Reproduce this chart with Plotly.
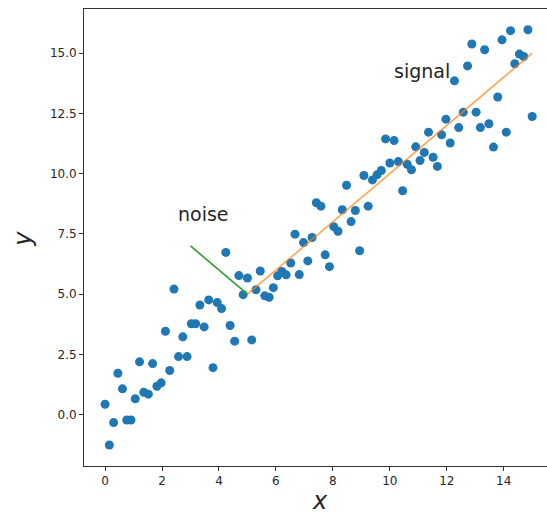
import plotly.graph_objects as go

# Observed samples
x_vals = [0.00, 0.15, 0.30, 0.45, 0.61, 0.76, 0.91, 1.06, 1.21, 1.36,
          1.52, 1.67, 1.82, 1.97, 2.12, 2.27, 2.42, 2.58, 2.73, 2.88,
          3.03, 3.18, 3.33, 3.48, 3.64, 3.79, 3.94, 4.09, 4.24, 4.39,
          4.55, 4.70, 4.85, 5.00, 5.15, 5.30, 5.45, 5.61, 5.76, 5.91,
          6.06, 6.21, 6.36, 6.52, 6.67, 6.82, 6.97, 7.12, 7.27, 7.42,
          7.58, 7.73, 7.88, 8.03, 8.18, 8.33, 8.48, 8.64, 8.79, 8.94,
          9.09, 9.24, 9.39, 9.55, 9.70, 9.85, 10.00, 10.15, 10.30, 10.45,
          10.61, 10.76, 10.91, 11.06, 11.21, 11.36, 11.52, 11.67, 11.82, 11.97,
          12.12, 12.27, 12.42, 12.58, 12.73, 12.88, 13.03, 13.18, 13.33, 13.48,
          13.64, 13.79, 13.94, 14.09, 14.24, 14.39, 14.55, 14.70, 14.85, 15.00]
y_vals = [0.43, -1.26, -0.33, 1.72, 1.07, -0.22, -0.22, 0.66, 2.19, 0.93,
          0.85, 2.12, 1.18, 1.32, 3.46, 1.83, 5.21, 2.41, 3.23, 2.41,
          3.77, 3.77, 4.55, 3.64, 4.76, 1.95, 4.65, 4.40, 6.73, 3.70,
          3.05, 5.77, 4.98, 5.67, 3.10, 5.18, 5.96, 4.93, 4.87, 5.27,
          5.76, 5.94, 5.80, 6.29, 7.49, 5.81, 7.14, 6.38, 7.35, 8.79,
          8.65, 6.63, 6.14, 7.80, 7.61, 8.50, 9.52, 8.01, 8.47, 6.80,
          9.92, 8.65, 9.74, 9.95, 10.13, 11.44, 10.44, 11.37, 10.50, 9.29,
          10.39, 10.16, 11.11, 10.54, 10.88, 11.72, 10.68, 10.30, 11.61, 12.26,
          11.27, 13.85, 11.91, 12.55, 14.47, 15.38, 12.55, 11.91, 15.14, 12.07,
          11.10, 13.18, 15.55, 11.72, 15.93, 14.56, 14.96, 14.86, 15.97, 12.37]

# Underlying trend segment and one residual
signal_x = [5, 15]
signal_y = [5, 15]
noise_x = [3, 5]
noise_y = [7, 5]

x_ticks = [0, 2, 4, 6, 8, 10, 12, 14]
y_ticks = [0.0, 2.5, 5.0, 7.5, 10.0, 12.5, 15.0]

fig = go.Figure()
fig.add_trace(go.Scatter(x=x_vals, y=y_vals, mode="markers",
                         marker=dict(color="#1f77b4", size=9, line=dict(width=0)),
                         showlegend=False))
fig.add_trace(go.Scatter(x=signal_x, y=signal_y, mode="lines",
                         line=dict(color="#ff7f0e", width=1.6), opacity=0.7,
                         showlegend=False))
fig.add_trace(go.Scatter(x=noise_x, y=noise_y, mode="lines",
                         line=dict(color="#2ca02c", width=1.6),
                         showlegend=False))

txt = "#262626"
axis_common = dict(showline=True, linecolor="#333333", linewidth=1,
                   ticks="outside", ticklen=4, tickcolor="#333333",
                   showgrid=False, zeroline=False,
                   tickfont=dict(family="DejaVu Sans", size=12, color=txt))

fig.update_layout(
    width=547, height=516,
    margin=dict(l=84, r=0, t=9, b=50),
    plot_bgcolor="white", paper_bgcolor="white",
    xaxis=dict(range=[-0.74, 15.52], tickvals=x_ticks, mirror=True, **axis_common),
    yaxis=dict(range=[-2.13, 16.83], tickvals=y_ticks, tickformat=".1f",
               mirror=False, **axis_common),
    annotations=[
        dict(x=3.45, y=8.33, xref="x", yref="y", text="noise", showarrow=False,
             xanchor="center", yanchor="middle",
             font=dict(family="DejaVu Sans", size=19, color=txt)),
        dict(x=11.12, y=14.27, xref="x", yref="y", text="signal", showarrow=False,
             xanchor="center", yanchor="middle",
             font=dict(family="DejaVu Sans", size=19, color=txt)),
        dict(x=0.509, y=-0.077, xref="paper", yref="paper", text="<i>x</i>",
             xanchor="center", yanchor="middle", showarrow=False,
             font=dict(family="DejaVu Sans", size=24, color=txt)),
        dict(x=-0.132, y=0.497, xref="paper", yref="paper", text="<i>y</i>",
             xanchor="center", yanchor="middle", textangle=-90, showarrow=False,
             font=dict(family="DejaVu Sans", size=24, color=txt)),
    ],
)

fig.write_html("out.html")
